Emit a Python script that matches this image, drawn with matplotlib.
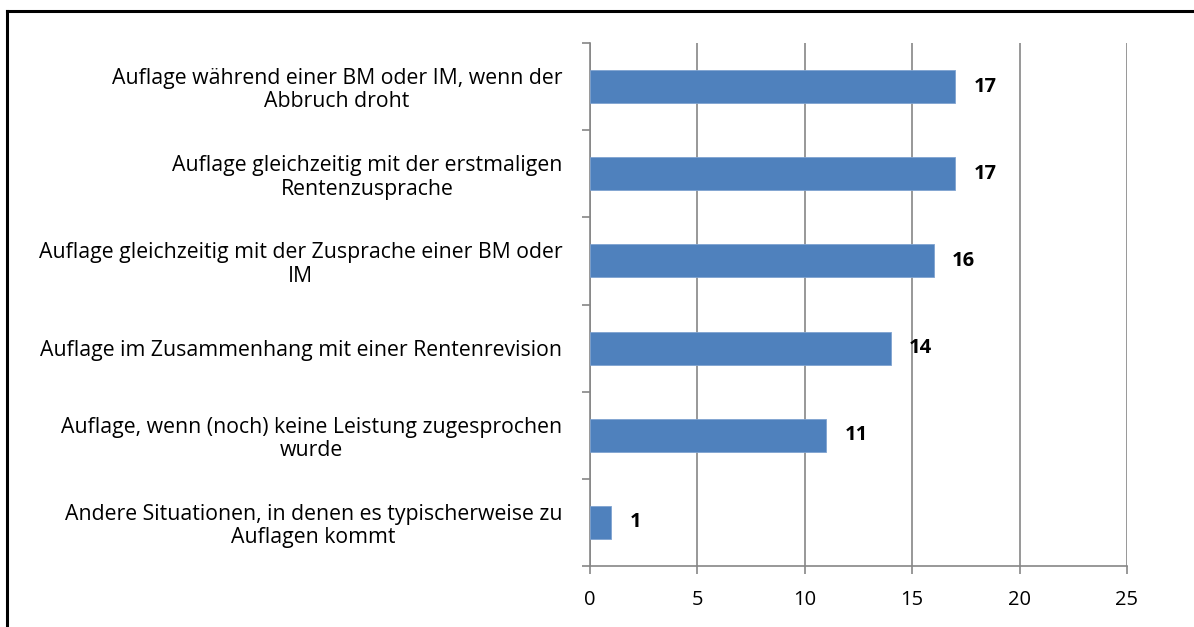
import matplotlib.pyplot as plt
from matplotlib.lines import Line2D

# Data
categories = [
    "Auflage während einer BM oder IM, wenn der\nAbbruch droht",
    "Auflage gleichzeitig mit der erstmaligen\nRentenzusprache",
    "Auflage gleichzeitig mit der Zusprache einer BM oder\nIM",
    "Auflage im Zusammenhang mit einer Rentenrevision",
    "Auflage, wenn (noch) keine Leistung zugesprochen\nwurde",
    "Andere Situationen, in denen es typischerweise zu\nAuflagen kommt",
]
values = [17, 17, 16, 14, 11, 1]
xticks = [0, 5, 10, 15, 20, 25]

BAR_COLOR = "#4F81BD"
GRID_COLOR = "#868686"
FS = 15.3

plt.rcParams['font.family'] = ['Open Sans', 'DejaVu Sans']

fig = plt.figure(figsize=(11.94, 6.27), dpi=100)
W, H = 1194, 627
ax = fig.add_axes([590 / W, 1 - 566 / H, (1127 - 590) / W, (566 - 43) / H])

pos = list(range(len(categories)))
ax.barh(pos, values, height=0.38, color=BAR_COLOR, edgecolor="#7FA3D0", linewidth=0.6, zorder=3)

for p, v in zip(pos, values):
    ax.text(v + 0.85, p, str(v), va="center", ha="left", fontsize=14.5, fontweight="bold", color="black")

ax.set_ylim(len(categories) - 0.5, -0.5)
ax.set_xlim(0, 25)
ax.set_xticks(xticks)
ax.set_xticklabels([str(t) for t in xticks], fontsize=14.5)

# category boundaries as y ticks (Excel-style)
ax.set_yticks([i - 0.5 for i in range(len(categories) + 1)], minor=False)
ax.set_yticklabels([])
ax.set_yticks(pos, minor=True)
ax.set_yticklabels(categories, minor=True, fontsize=FS, multialignment="center", linespacing=1.15)
ax.tick_params(axis="y", which="minor", length=0, pad=20)
ax.tick_params(axis="y", which="major", length=6, color=GRID_COLOR, width=1.2)
ax.tick_params(axis="x", length=6, color=GRID_COLOR, width=1.2, pad=11)

ax.grid(axis="x", color=GRID_COLOR, linewidth=1.2, zorder=0)
for side in ["top", "right"]:
    ax.spines[side].set_visible(False)
for side in ["left", "bottom"]:
    ax.spines[side].set_color(GRID_COLOR)
    ax.spines[side].set_linewidth(1.2)

# outer frame (top and left edges)
fig.add_artist(Line2D([7 / W, 1.0], [1 - 10.5 / H, 1 - 10.5 / H], color="black", linewidth=2.2))
fig.add_artist(Line2D([7 / W, 7 / W], [0.0, 1 - 10.5 / H], color="black", linewidth=2.2))

fig.savefig("out.png", dpi=100)
